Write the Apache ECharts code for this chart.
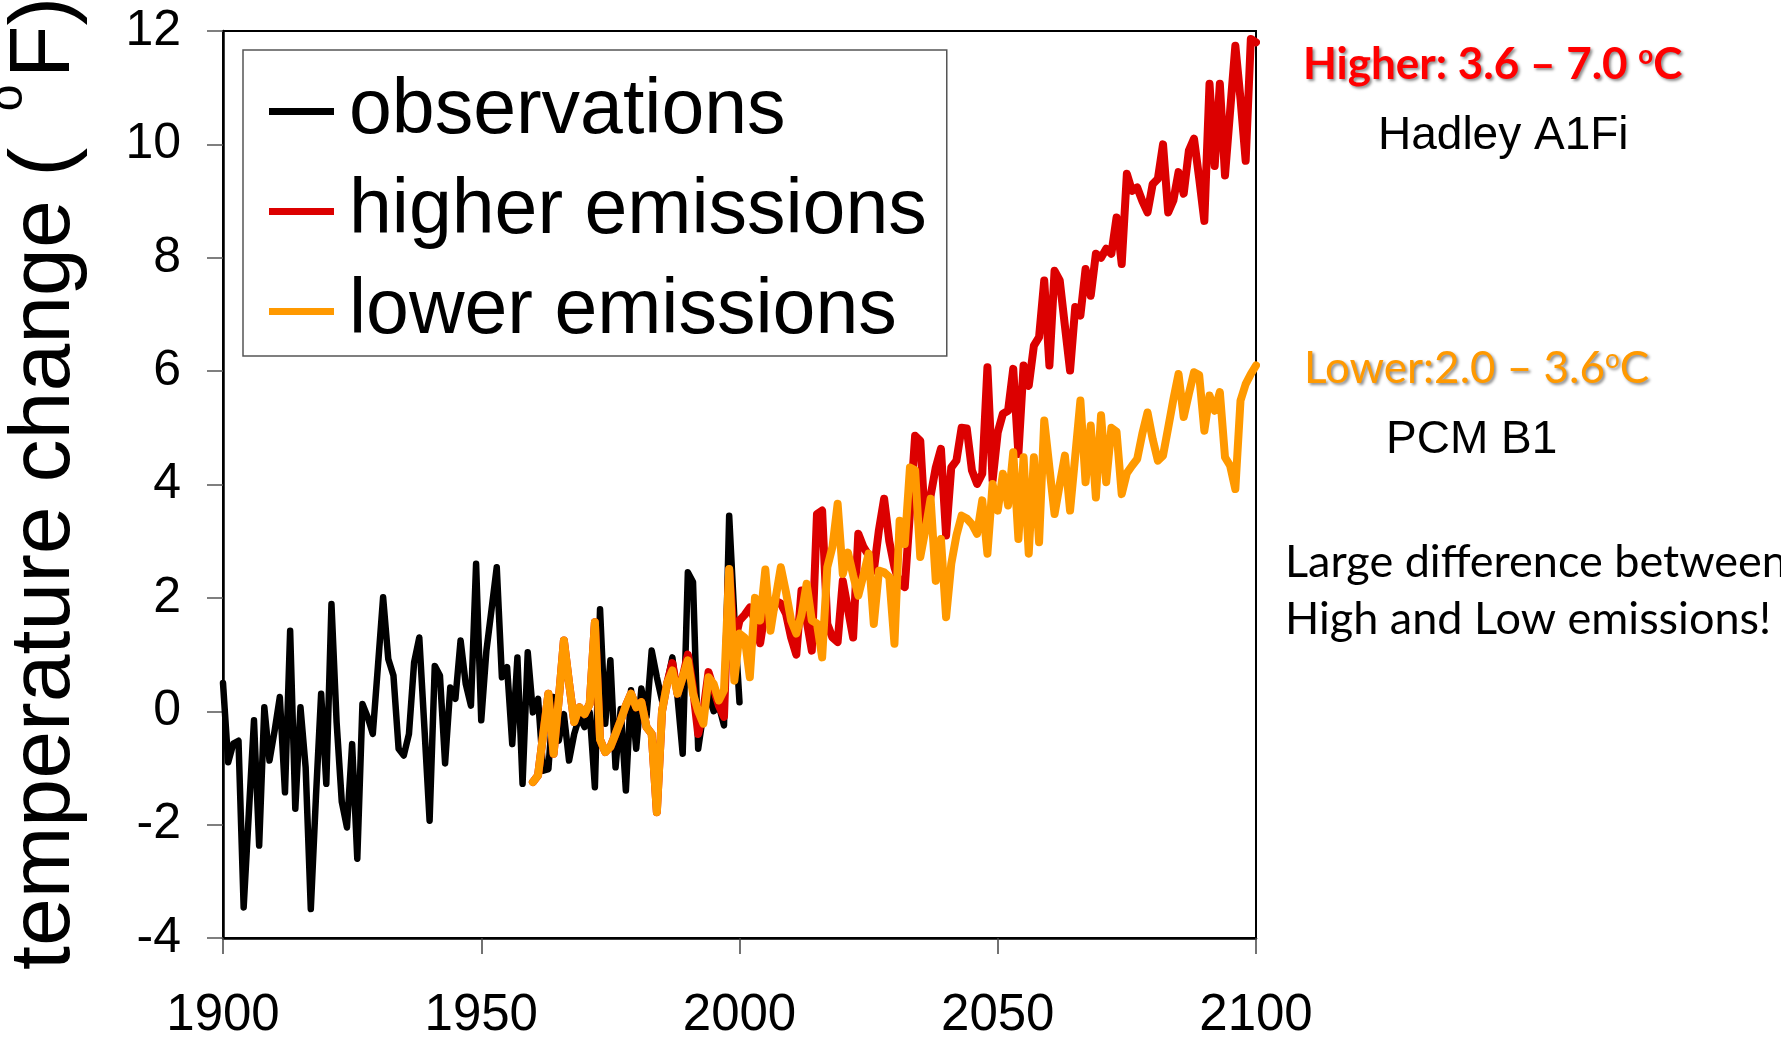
<!DOCTYPE html>
<html>
<head>
<meta charset="utf-8">
<script src="https://cdn.jsdelivr.net/npm/echarts@6/dist/echarts.min.js"></script>
<style>
html,body{margin:0;padding:0;background:#fff;}
#chart{width:1781px;height:1038px;}
</style>
</head>
<body>
<div id="chart"></div>
<script>
// ---- data (temperature change, °F) ----
const obsStartYear = 1900;
const observations = [
  0.5, -0.9, -0.57, -0.52, -3.46, -1.8, -0.16, -2.37, 0.07, -0.87,
  -0.34, 0.25, -1.43, 1.42, -1.72, 0.07, -0.99, -3.49, -1.5, 0.31,
  -1.28, 1.89, -0.2, -1.6, -2.05, -0.58, -2.6, 0.13, -0.1, -0.4,
  0.8, 2.01, 0.92, 0.63, -0.66, -0.78, -0.4, 0.86, 1.3, -0.3,
  -1.93, 0.8, 0.63, -0.92, 0.42, 0.22, 1.25, 0.48, 0.1, 2.6,
  -0.16, 1.07, 1.8, 2.54, 0.6, 0.78, -0.58, 0.95, -1.28, 1.04,
  -0.02, 0.22, -1.05, -1.02, 0.25, -0.52, -0.05, -0.87, -0.4, -0.1,
  -0.28, -0.02, -1.34, 1.8, -0.22, 0.9, -0.99, 0.04, -1.4, 0.37,
  -0.66, 0.4, -0.1, 1.07, 0.6, 0.19, 0.5, 0.95, 0.25, -0.75,
  2.45, 2.28, -0.66, -0.04, 0.3, 0.0, 0.1, -0.25, 3.45, 1.66,
  0.16
];
const modelStartYear = 1960;
const higherEmissions = [
  -1.25, -1.13, -0.4, 0.31, -0.75, 0.2, 1.25, 0.5, -0.19, 0.07,
  -0.05, 0.13, 1.57, -0.5, -0.72, -0.63, -0.4, -0.16, 0.1, 0.31,
  0.07, 0.16, -0.28, -0.4, -1.78, 0.0, 0.5, 0.85, 0.31, 0.6,
  1.0, 0.4, -0.4, 0.0, 0.69, 0.4, 0.1, -0.1, 2.5, 1.2,
  1.6, 1.7, 1.83, 1.6, 1.2, 1.8, 1.6, 1.95, 1.9, 1.72,
  1.3, 1.0, 2.13, 1.6, 1.07, 3.48, 3.54, 1.54, 1.3, 1.22,
  2.3, 1.8, 1.3, 3.13, 2.9, 2.75, 2.48, 3.2, 3.75, 3.0,
  2.54, 2.25, 2.19, 3.5, 4.86, 4.77, 3.19, 3.8, 4.3, 4.63,
  3.1, 4.3, 4.42, 5.0, 4.99, 4.25, 4.01, 4.19, 6.07, 4.07,
  4.92, 5.25, 5.3, 6.04, 4.54, 6.1, 5.74, 6.45, 6.6, 7.6,
  6.1, 7.77, 7.6, 6.8, 6.01, 7.13, 6.98, 7.8, 7.33, 8.07,
  8.0, 8.16, 8.07, 8.71, 7.89, 9.48, 9.18, 9.24, 9.0, 8.8,
  9.3, 9.39, 10.0, 8.8, 9.01, 9.51, 9.13, 9.89, 10.1, 9.4,
  8.65, 11.07, 9.62, 11.07, 9.45, 10.6, 11.74, 10.8, 9.71, 11.86,
  11.8
];
const lowerEmissions = [
  -1.25, -1.13, -0.4, 0.31, -0.75, 0.2, 1.25, 0.5, -0.19, 0.07,
  -0.05, 0.13, 1.57, -0.5, -0.72, -0.63, -0.4, -0.16, 0.1, 0.31,
  0.07, 0.16, -0.28, -0.4, -1.78, 0.0, 0.5, 0.72, 0.31, 0.6,
  0.9, 0.31, 0.0, -0.22, 0.6, 0.48, 0.19, 0.37, 2.51, 0.54,
  1.37, 1.3, 0.6, 2.0, 1.6, 2.5, 1.42, 2.0, 2.54, 2.1,
  1.6, 1.37, 1.7, 2.25, 1.6, 1.55, 0.95, 2.54, 2.9, 3.66,
  2.42, 2.8, 2.4, 2.04, 2.4, 2.78, 1.54, 2.48, 2.45, 2.37,
  1.19, 3.36, 2.95, 4.3, 4.25, 2.72, 3.2, 3.75, 2.3, 3.04,
  1.66, 2.6, 3.1, 3.45, 3.4, 3.3, 3.13, 3.72, 2.78, 4.01,
  3.54, 4.19, 3.63, 4.57, 3.04, 4.48, 2.78, 4.48, 2.98, 5.13,
  4.3, 3.48, 4.0, 4.51, 3.54, 4.5, 5.48, 4.04, 5.04, 3.77,
  5.22, 4.04, 5.0, 4.93, 3.83, 4.2, 4.33, 4.45, 4.9, 5.27,
  4.8, 4.42, 4.51, 5.0, 5.5, 5.95, 5.19, 5.6, 5.98, 5.93,
  4.95, 5.57, 5.3, 5.63, 4.48, 4.33, 3.92, 5.48, 5.77, 5.95,
  6.1
];
const seriesNames = ['observations', 'higher emissions', 'lower emissions'];
const xTicks = { min: 1900, max: 2100, interval: 50 };
const yTicks = { min: -4, max: 12, interval: 2 };

function pairs(start, vals) { return vals.map((v, i) => [start + i, v]); }

const AR = '"Liberation Sans", Arial, sans-serif';
const CAL = 'Lato, "Open Sans", sans-serif';
const SH = { textShadowColor: 'rgba(0,0,0,0.45)', textShadowBlur: 3, textShadowOffsetX: 2, textShadowOffsetY: 2 };

const chart = echarts.init(document.getElementById('chart'), null, { renderer: 'canvas' });
chart.setOption({
  animation: false,
  backgroundColor: '#fff',
  grid: { left: 223, right: 525, top: 31, bottom: 100, show: true, borderColor: '#000', borderWidth: 2, outerBoundsMode: 'none' },
  xAxis: {
    type: 'value', min: xTicks.min, max: xTicks.max, interval: xTicks.interval,
    axisLine: { show: true, onZero: false, lineStyle: { color: '#000', width: 2.5 } },
    axisTick: { show: true, inside: false, length: 16, lineStyle: { color: '#444', width: 1.5 } },
    axisLabel: { fontFamily: AR, fontSize: 51, color: '#000', margin: 52, formatter: v => String(v) },
    splitLine: { show: false }
  },
  yAxis: {
    type: 'value', min: yTicks.min, max: yTicks.max, interval: yTicks.interval,
    axisLine: { show: true, onZero: false, lineStyle: { color: '#000', width: 2.5 } },
    axisTick: { show: true, inside: false, length: 16, lineStyle: { color: '#555', width: 1.5 } },
    axisLabel: { fontFamily: AR, fontSize: 50, color: '#000', margin: 42, formatter: v => String(v) },
    splitLine: { show: false }
  },
  legend: {
    orient: 'vertical', left: 243, top: 50,
    itemWidth: 65, itemHeight: 7, itemGap: 23, icon: 'rect',
    padding: [23, 20, 6, 26],
    borderColor: '#555', borderWidth: 1.5, backgroundColor: '#fff',
    textStyle: { fontFamily: AR, fontSize: 77, color: '#000', lineHeight: 77, padding: [0, 0, 0, 10] },
    data: seriesNames
  },
  series: [
    { type: 'line', name: seriesNames[0], data: pairs(obsStartYear, observations), symbol: 'none', z: 2,
      color: '#000', lineStyle: { color: '#000', width: 6.5, join: 'round', cap: 'round' } },
    { type: 'line', name: seriesNames[1], data: pairs(modelStartYear, higherEmissions), symbol: 'none', z: 3,
      color: '#dc0000', lineStyle: { color: '#dc0000', width: 8, join: 'round', cap: 'round' } },
    { type: 'line', name: seriesNames[2], data: pairs(modelStartYear, lowerEmissions), symbol: 'none', z: 4,
      color: '#ff9900', lineStyle: { color: '#ff9900', width: 8, join: 'round', cap: 'round' } }
  ],
  graphic: [
    { type: 'text', x: 45, y: 970, rotation: Math.PI / 2,
      style: { text: 'temperature change (', font: '86px ' + AR, fill: '#000', textAlign: 'left', textVerticalAlign: 'middle', align: 'left', verticalAlign: 'middle' } },
    { type: 'text', x: 9, y: 98, rotation: Math.PI / 2,
      style: { text: 'o', font: '48px ' + AR, fill: '#000', textAlign: 'center', textVerticalAlign: 'middle', align: 'center', verticalAlign: 'middle' } },
    { type: 'text', x: 45, y: 78, rotation: Math.PI / 2,
      style: { text: 'F)', font: '86px ' + AR, fill: '#000', textAlign: 'left', textVerticalAlign: 'middle', align: 'left', verticalAlign: 'middle' } },

    { type: 'text', x: 1303, y: 65,
      style: Object.assign({ text: '{a|Higher: 3.6 – 7.0 }{s|o}{a|C}', fill: '#ff0000', textAlign: 'left', textVerticalAlign: 'middle', align: 'left', verticalAlign: 'middle',
        rich: {
          a: Object.assign({ fontFamily: CAL, fontWeight: 'bold', fontSize: 44, fill: '#ff0000', color: '#ff0000' }, SH),
          s: Object.assign({ fontFamily: CAL, fontWeight: 'bold', fontSize: 26, fill: '#ff0000', color: '#ff0000', verticalAlign: 'top' }, SH)
        } }, SH) },
    { type: 'text', x: 1378, y: 136,
      style: { text: 'Hadley A1Fi', font: '46px ' + AR, fill: '#000', textAlign: 'left', textVerticalAlign: 'middle', align: 'left', verticalAlign: 'middle' } },
    { type: 'text', x: 1304, y: 369,
      style: Object.assign({ text: '{a|Lower:2.0 – 3.6}{s|o}{a|C}', fill: '#ff9900', textAlign: 'left', textVerticalAlign: 'middle', align: 'left', verticalAlign: 'middle',
        rich: {
          a: Object.assign({ fontFamily: CAL, fontSize: 44, fill: '#ff9900', color: '#ff9900' }, SH),
          s: Object.assign({ fontFamily: CAL, fontSize: 26, fill: '#ff9900', color: '#ff9900', verticalAlign: 'top' }, SH)
        } }, SH) },
    { type: 'text', x: 1386, y: 440,
      style: { text: 'PCM B1', font: '46px ' + AR, fill: '#000', textAlign: 'left', textVerticalAlign: 'middle', align: 'left', verticalAlign: 'middle' } },
    { type: 'text', x: 1285, y: 562,
      style: { text: 'Large difference between', font: '45px ' + CAL, fill: '#000', textAlign: 'left', textVerticalAlign: 'middle', align: 'left', verticalAlign: 'middle' } },
    { type: 'text', x: 1285, y: 619,
      style: { text: 'High and Low emissions!', font: '45px ' + CAL, fill: '#000', textAlign: 'left', textVerticalAlign: 'middle', align: 'left', verticalAlign: 'middle' } }
  ]
});
</script>
</body>
</html>
